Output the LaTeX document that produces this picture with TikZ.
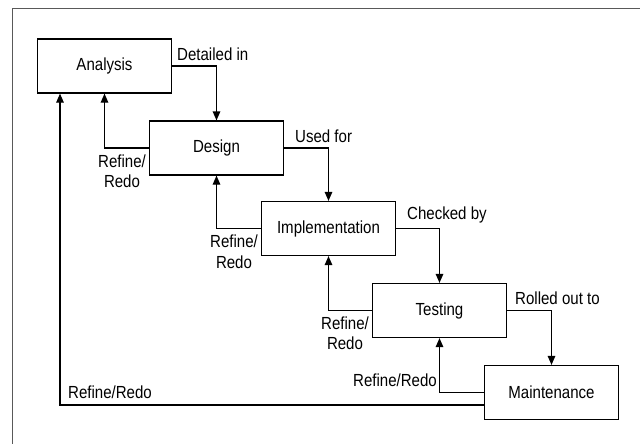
\documentclass[tikz,border=0pt]{standalone}
\usepackage{fontspec}
\setmainfont[FakeStretch=0.86]{Liberation Sans}
\usetikzlibrary{arrows.meta}
\begin{document}
\begin{tikzpicture}[x=1pt,y=-1pt,
  box/.style={draw,line width=1.2pt,minimum width=134pt,minimum height=54pt,inner sep=0pt,font=\fontsize{17.5}{20.5}\selectfont},
  lbl/.style={inner sep=0pt,font=\fontsize{17.5}{20.5}\selectfont,align=center},
  arr/.style={line width=1.2pt,-{Triangle[length=9pt,width=7.5pt]}},
  frame/.style={draw=black!65,line width=1pt}]
\useasboundingbox (0,0) rectangle (640,444);
\coordinate (f1) at (12.5,444);
\coordinate (f2) at (12.5,9);
\coordinate (f3) at (640,9);
\draw[frame] (f1) -- (f2) -- (f3);
\node[box] (A) at (104.5,66) {Analysis};
\node[box] (D) at (216.5,148) {Design};
\node[box] (I) at (328.5,228.5) {Implementation};
\node[box] (T) at (439.5,310.5) {Testing};
\node[box] (M) at (551.5,392.5) {Maintenance};
\draw[arr] (A.east) -| (D.north);
\draw[arr] (D.east) -| (I.north);
\draw[arr] (I.east) -| (T.north);
\draw[arr] (T.east) -| (M.north);
\draw[arr] (D.west) -| (A.south);
\draw[arr] (I.west) -| (D.south);
\draw[arr] (T.west) -| (I.south);
\draw[arr] (M.west) -| (T.south);
\draw[arr] ([yshift=-12.5pt]M.west) -| ([xshift=-44.5pt]A.south);
\node[lbl,anchor=west] (l1) at (177,54) {Detailed in};
\node[lbl,anchor=west] (l2) at (295,136) {Used for};
\node[lbl,anchor=west] (l3) at (407,215) {Checked by};
\node[lbl,anchor=west] (l4) at (515,298) {Rolled out to};
\node[lbl] (r1) at (122,171) {Refine/\\Redo};
\node[lbl] (r2) at (234,251.5) {Refine/\\Redo};
\node[lbl] (r3) at (345,333) {Refine/\\Redo};
\node[lbl] (r4) at (395,380) {Refine/Redo};
\node[lbl] (r5) at (110,392) {Refine/Redo};
\end{tikzpicture}
\end{document}
